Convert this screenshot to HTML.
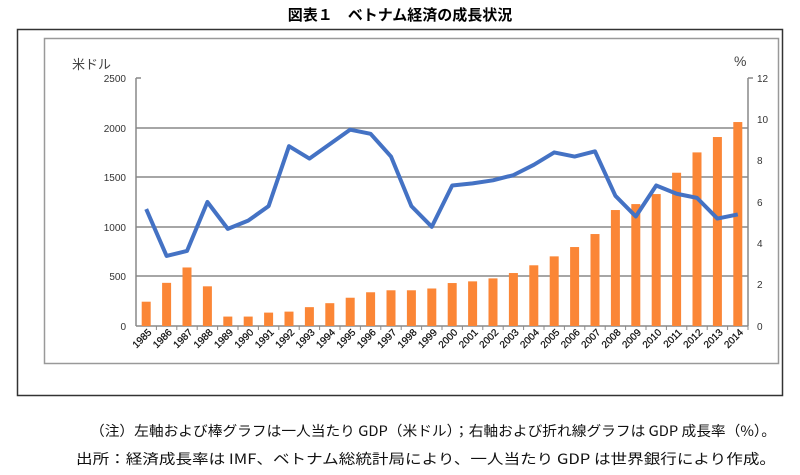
<!DOCTYPE html>
<html><head><meta charset="utf-8"><style>
body{margin:0;background:#fff;width:800px;height:475px;overflow:hidden}
svg{display:block}
</style></head><body>
<svg width="800" height="475" xmlns="http://www.w3.org/2000/svg" font-family="'Liberation Sans','Noto Sans CJK JP',sans-serif">
<text x="400" y="20" text-anchor="middle" font-size="15" font-weight="bold" font-family="'Liberation Sans','Noto Sans CJK JP',sans-serif">図表１　ベトナム経済の成長状況</text>
<rect x="17.5" y="29.5" width="765" height="366" fill="none" stroke="#333" stroke-width="1.5"/>
<rect x="44.5" y="38.5" width="734" height="325" fill="none" stroke="#999" stroke-width="1.5"/>
<g stroke="#888" stroke-width="1.5">
<line x1="136" y1="128" x2="748" y2="128"/><line x1="136" y1="177" x2="748" y2="177"/>
<line x1="136" y1="227" x2="748" y2="227"/><line x1="136" y1="276" x2="748" y2="276"/>
<line x1="136" y1="78" x2="136" y2="326"/><line x1="748" y1="78" x2="748" y2="326"/>
<line x1="136" y1="326" x2="748" y2="326"/>
<line x1="136" y1="78" x2="141" y2="78"/><line x1="748" y1="78" x2="753" y2="78"/>
</g>
<g id="bars" fill="#fb8636"></g>
<g id="ticks" stroke="#888" stroke-width="1"></g>
<polyline id="ln" fill="none" stroke="#4472c4" stroke-width="4" stroke-linejoin="round"/>
<g font-size="10" fill="#333" text-anchor="end">
<text x="126" y="82">2500</text><text x="126" y="132">2000</text><text x="126" y="181">1500</text>
<text x="126" y="231">1000</text><text x="126" y="280">500</text><text x="126" y="330">0</text>
</g>
<g font-size="10" fill="#333">
<text x="757" y="82">12</text><text x="757" y="123">10</text><text x="757" y="164">8</text>
<text x="757" y="206">6</text><text x="757" y="247">4</text><text x="757" y="288">2</text><text x="757" y="330">0</text>
</g>
<text x="72" y="69" font-size="13" fill="#444">米ドル</text>
<text x="734" y="66" font-size="14" fill="#444">%</text>
<g id="lbl" font-size="10" fill="#111" stroke="#111" stroke-width="0.25" text-anchor="end"></g>
<text x="90" y="436" font-size="14" fill="#111" textLength="686" lengthAdjust="spacingAndGlyphs" font-family="'Liberation Sans Narrow','Noto Sans CJK JP',sans-serif">（注）左軸および棒グラフは一人当たり GDP（米ドル）；右軸および折れ線グラフは GDP 成長率（%）。</text>
<text x="76" y="464" font-size="14" fill="#111" textLength="700" lengthAdjust="spacingAndGlyphs" font-family="'Liberation Sans Narrow','Noto Sans CJK JP',sans-serif">出所：経済成長率は IMF、ベトナム総統計局により、一人当たり GDP は世界銀行により作成。</text>
<script>
var b=[245,435,590,400,95,95,135,145,190,230,285,340,360,360,378,433,450,480,534,612,702,796,927,1169,1229,1330,1545,1750,1905,2056];
var g=[5.66,3.39,3.63,6.0,4.7,5.1,5.8,8.7,8.1,8.8,9.5,9.3,8.2,5.8,4.8,6.8,6.9,7.05,7.3,7.8,8.4,8.2,8.45,6.3,5.3,6.8,6.4,6.2,5.2,5.4];
var ns="http://www.w3.org/2000/svg",B=document.getElementById('bars'),T=document.getElementById('ticks'),L=document.getElementById('lbl'),pts=[];
for(var i=0;i<30;i++){var cx=136+10.2+i*20.4;var h=b[i]*248/2500;
var r=document.createElementNS(ns,'rect');r.setAttribute('x',cx-4.5);r.setAttribute('y',326-h);r.setAttribute('width',9);r.setAttribute('height',h);B.appendChild(r);
var t=document.createElementNS(ns,'line');var tx=136+(i+1)*20.4;t.setAttribute('x1',tx);t.setAttribute('x2',tx);t.setAttribute('y1',326);t.setAttribute('y2',330);T.appendChild(t);
pts.push(cx+','+(326-g[i]*248/12));
var s=document.createElementNS(ns,'text');s.setAttribute('transform','translate('+(cx+6)+',333) rotate(-45)');s.textContent=1985+i;L.appendChild(s);}
document.getElementById('ln').setAttribute('points',pts.join(' '));
</script>
</svg>
</body></html>
